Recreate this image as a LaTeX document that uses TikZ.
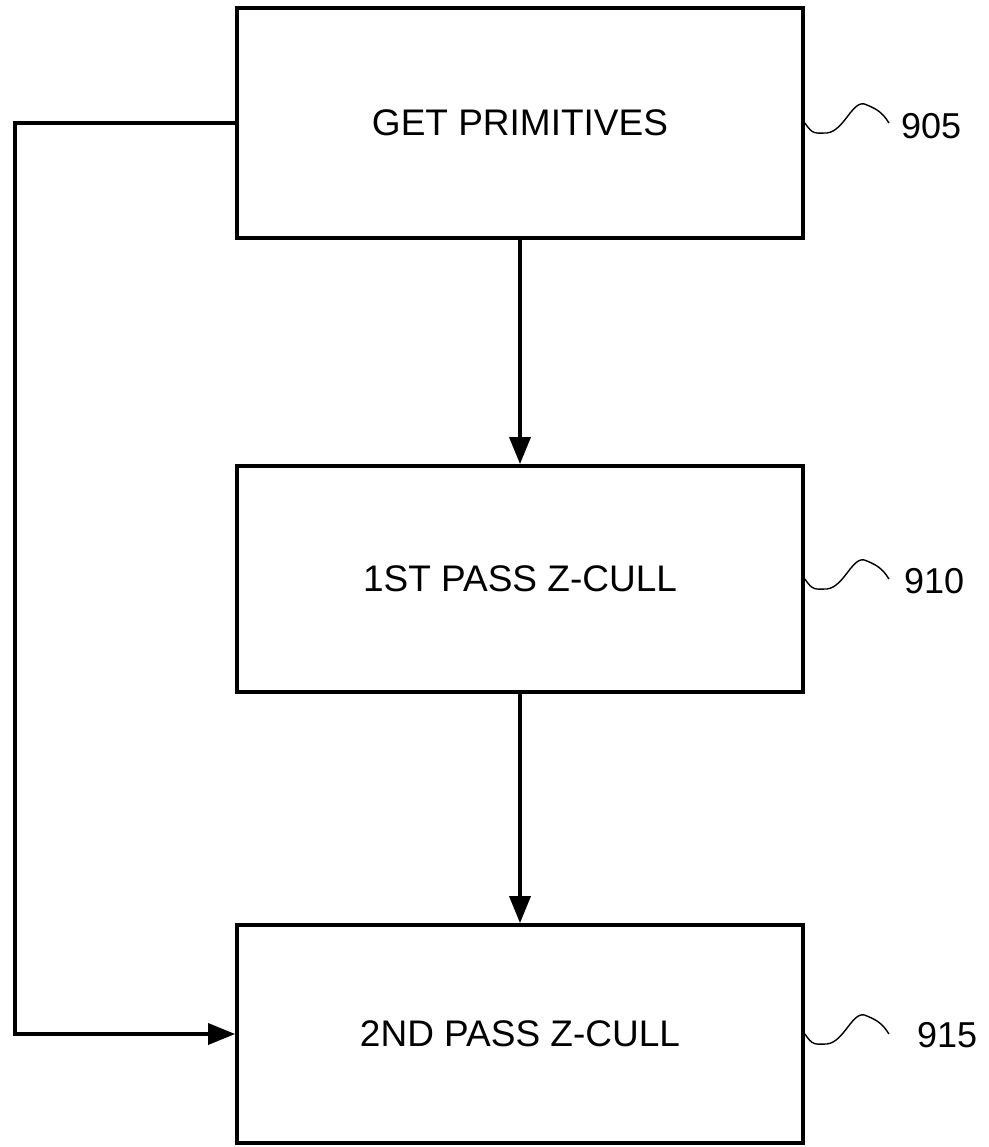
\documentclass[tikz,border=0pt]{standalone}
\usepackage{fontspec}
\setmainfont{Liberation Sans}
\usetikzlibrary{arrows.meta}
\begin{document}
\begin{tikzpicture}[x=1pt,y=-1pt,
  stepbox/.style={draw,line width=3.8pt,minimum width=566pt,inner sep=0pt,font=\fontsize{37}{42}\selectfont},
  conn/.style={line width=3.6pt,-{Triangle[length=27pt,width=21pt]}},
  squig/.style={line width=1.4pt},
  reflabel/.style={anchor=west,inner sep=0pt,font=\fontsize{36}{42}\selectfont}]
\useasboundingbox (0,0) rectangle (988,1147);
\node[stepbox,minimum height=230pt] (b1) at (520,123) {GET PRIMITIVES};
\node[stepbox,minimum height=226pt] (b2) at (520,579) {1ST PASS Z-CULL};
\node[stepbox,minimum height=218pt] (b3) at (520,1034) {2ND PASS Z-CULL};
\draw[conn] (b1.south) -- (b2.north);
\draw[conn] (b2.south) -- (b3.north);
\coordinate (lc) at (15,1034);
\draw[conn] (b1.west) -| (lc) -- (b3.west);
% reference numerals
\draw[squig] (b1.east) .. controls +(8,12) and +(-12,0) .. +(22,10) .. controls +(18,-2) and +(-14,-8) .. +(62,-18) .. controls +(10,4) and +(-6,-10) .. +(84,0);
\node[reflabel] (l1) at (901,126) {905};
\draw[squig] (b2.east) .. controls +(8,12) and +(-12,0) .. +(22,10) .. controls +(18,-2) and +(-14,-8) .. +(62,-18) .. controls +(10,4) and +(-6,-10) .. +(84,0);
\node[reflabel] (l2) at (904,581) {910};
\draw[squig] (b3.east) .. controls +(8,12) and +(-12,0) .. +(22,10) .. controls +(18,-2) and +(-14,-8) .. +(62,-18) .. controls +(10,4) and +(-6,-10) .. +(84,0);
\node[reflabel] (l3) at (917,1035) {915};
\end{tikzpicture}
\end{document}
